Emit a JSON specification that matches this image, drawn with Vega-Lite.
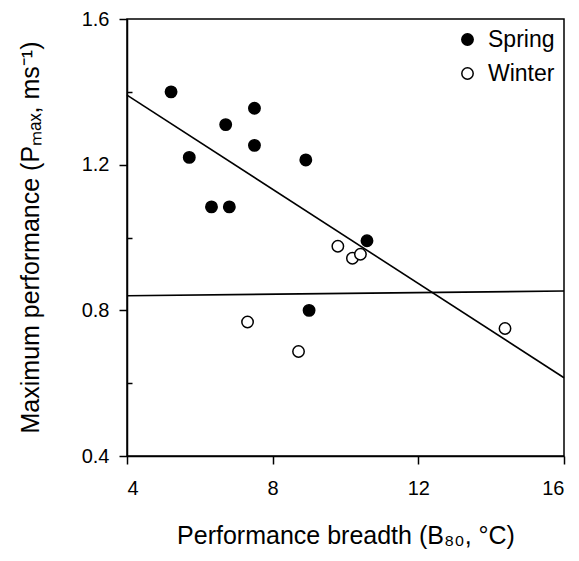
{
  "$schema": "https://vega.github.io/schema/vega-lite/v6.json",
  "width": 437,
  "height": 437,
  "autosize": "none",
  "padding": {"left": 127, "top": 19, "right": 15, "bottom": 105},
  "background": "white",
  "config": {
    "font": "Liberation Sans",
    "view": {"stroke": "black", "strokeWidth": 1.5},
    "axis": {
      "grid": false,
      "domainColor": "black",
      "domainWidth": 1.5,
      "tickColor": "black",
      "tickWidth": 1.5,
      "labelColor": "black",
      "titleColor": "black",
      "labelFont": "Liberation Sans",
      "titleFont": "Liberation Sans",
      "labelFontSize": 20,
      "titleFontWeight": "normal"
    }
  },
  "datasets": {
    "points": [
      {"breadth": 5.21, "perf": 1.40, "season": "Spring"},
      {"breadth": 5.71, "perf": 1.22, "season": "Spring"},
      {"breadth": 6.71, "perf": 1.31, "season": "Spring"},
      {"breadth": 7.50, "perf": 1.355, "season": "Spring"},
      {"breadth": 7.50, "perf": 1.253, "season": "Spring"},
      {"breadth": 6.32, "perf": 1.084, "season": "Spring"},
      {"breadth": 6.81, "perf": 1.084, "season": "Spring"},
      {"breadth": 8.91, "perf": 1.213, "season": "Spring"},
      {"breadth": 10.59, "perf": 0.991, "season": "Spring"},
      {"breadth": 9.0, "perf": 0.80, "season": "Spring"},
      {"breadth": 7.31, "perf": 0.768, "season": "Winter"},
      {"breadth": 8.71, "perf": 0.687, "season": "Winter"},
      {"breadth": 9.79, "perf": 0.976, "season": "Winter"},
      {"breadth": 10.19, "perf": 0.943, "season": "Winter"},
      {"breadth": 10.41, "perf": 0.954, "season": "Winter"},
      {"breadth": 14.38, "perf": 0.75, "season": "Winter"}
    ],
    "fits": [
      {"breadth": 4, "perf": 1.391, "season": "Spring"},
      {"breadth": 16, "perf": 0.615, "season": "Spring"},
      {"breadth": 4, "perf": 0.840, "season": "Winter"},
      {"breadth": 16, "perf": 0.853, "season": "Winter"}
    ]
  },
  "encoding": {
    "x": {
      "field": "breadth",
      "type": "quantitative",
      "scale": {"domain": [4, 16], "nice": false, "zero": false},
      "axis": {
        "values": [4, 8, 12, 16],
        "tickSize": 8,
        "labelPadding": 14,
        "title": "Performance breadth (B₈₀, °C)",
        "titleFontSize": 25,
        "titleY": 87,
        "titleBaseline": "alphabetic"
      }
    }
  },
  "layer": [
    {
      "data": {"name": "fits"},
      "mark": {"type": "line", "color": "black", "strokeWidth": 1.6},
      "encoding": {
        "y": {
          "field": "perf",
          "type": "quantitative",
          "scale": {"domain": [0.4, 1.6], "nice": false, "zero": false},
          "axis": {
            "orient": "left",
            "values": [0.6, 1.0, 1.4],
            "tickSize": -5,
            "labels": false,
            "domain": false,
            "title": null
          }
        },
        "detail": {"field": "season", "type": "nominal"}
      }
    },
    {
      "data": {"name": "points"},
      "mark": {"type": "circle", "size": 130, "stroke": "black", "strokeWidth": 1.5, "opacity": 1},
      "encoding": {
        "y": {
          "field": "perf",
          "type": "quantitative",
          "scale": {"domain": [0.4, 1.6], "nice": false, "zero": false},
          "axis": {
            "orient": "left",
            "values": [0.4, 0.8, 1.2, 1.6],
            "format": ".1f",
            "tickSize": 8,
            "labelPadding": 10,
            "title": "Maximum performance (Pₘₐₓ, ms⁻¹)",
            "titleFontSize": 25,
            "titleAngle": 270,
            "titleX": -89,
            "titleY": 218,
            "titleAlign": "center",
            "titleBaseline": "alphabetic"
          }
        },
        "fill": {
          "field": "season",
          "type": "nominal",
          "scale": {"domain": ["Spring", "Winter"], "range": ["black", "white"]},
          "legend": {
            "title": null,
            "orient": "top-right",
            "offset": 9,
            "padding": 0,
            "symbolType": "circle",
            "symbolSize": 130,
            "symbolStrokeColor": "black",
            "symbolStrokeWidth": 1.5,
            "symbolOpacity": 1,
            "labelFontSize": 23,
            "labelFont": "Liberation Sans",
            "labelColor": "black",
            "labelOffset": 9,
            "rowPadding": 10
          }
        }
      }
    }
  ],
  "resolve": {"axis": {"y": "independent"}}
}
